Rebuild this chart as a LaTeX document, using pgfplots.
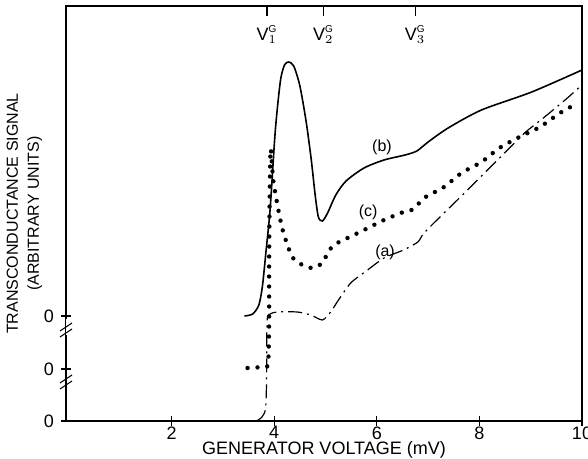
\documentclass[border=0pt]{standalone}
\usepackage{pgfplots}
\pgfplotsset{compat=1.18}
\usepackage{fontspec}
\setmainfont{Liberation Sans}

% curve (b), solid
\pgfplotstableread{
x y
3.42 105
3.58 107
3.70 116
3.77 135
3.84 170
3.92 212
4.02 290
4.12 340
4.20 356
4.28 359
4.38 355
4.50 335
4.62 300
4.72 262
4.80 225
4.86 204
4.94 200
5.04 208
5.20 226
5.40 240
5.75 253
6.14 261
6.55 266
6.78 270
7.00 279
7.39 293
8.04 311
9.02 329
10.00 351
}\curveb

% curve (c), dotted
\pgfplotstableread{
x y
3.48 53
3.62 53
3.78 55
3.88 57
3.90 100
3.90 160
3.91 220
3.93 272
3.98 241
4.08 211
4.18 188
4.35 164
4.55 156
4.75 153
4.94 158
5.04 168
5.16 176
5.35 181
5.75 191
6.14 201
6.52 209
6.72 212
6.92 223
7.31 234
7.65 248
8.04 259
8.39 273
8.78 284
9.18 294
9.57 308
9.92 318
}\curvec

% curve (a), dash-dot
\pgfplotstableread{
x y
3.66 0
3.76 4
3.83 12
3.85 40
3.86 100
3.92 107
4.06 109
4.45 109
4.71 106
4.94 101
5.10 109
5.24 120
5.49 138
5.82 151
6.14 163
6.52 171
6.80 179
6.92 188
7.31 208
7.71 228
8.10 248
8.49 268
8.88 288
9.27 304
9.67 321
10.00 336
}\curvea

\newcommand{\vg}[1]{V$_{#1}^{\mathrm{\scriptscriptstyle G}}$}

\begin{document}
\begin{tikzpicture}
\begin{axis}[
    scale only axis,
    width=258pt, height=207.5pt,
    xmin=-0.06, xmax=10, ymin=0, ymax=415,
    font=\fontsize{9}{10}\selectfont,
    axis line style={line width=0.6pt},
    xtick={2,4,6,8,10},
    xticklabels={2,4,6,8,10},
    ytick={0,52,105},
    yticklabels={0,0,0},
    xtick pos=bottom, ytick pos=left,
    tick align=center,
    major tick length=5pt,
    tick style={line width=0.6pt, black},
    /pgf/number format/assume math mode=true,
    xticklabel style={yshift=3.3pt},
    xlabel={GENERATOR VOLTAGE (mV)},
    ylabel={TRANSCONDUCTANCE SIGNAL\\(ARBITRARY UNITS)},
    ylabel style={align=center, font=\fontsize{8}{10.5}\selectfont},
    ylabel shift=-6pt,
    xlabel style={yshift=5.5pt},
    clip=false,
]
\addplot[black, line width=0.8pt, smooth, tension=0.45] table {\curveb};
\addplot[black, line width=2.2pt, line cap=round, dash pattern=on 0pt off 5pt, smooth, tension=0.4] table {\curvec};
\addplot[black, line width=0.6pt, dash pattern=on 7pt off 2.5pt on 1pt off 2.5pt, smooth, tension=0.4] table {\curvea};

% axis breaks
\fill[white] (axis cs:-0.06,86) rectangle ++(2pt,8pt);
\draw[line width=0.5pt] (axis cs:-0.06,88) ++(-3pt,-2pt) -- ++(6pt,4pt);
\draw[line width=0.5pt] (axis cs:-0.06,94) ++(-3pt,-2pt) -- ++(6pt,4pt);
\draw[line width=0.5pt] (axis cs:-0.06,36) ++(-3pt,-2pt) -- ++(6pt,4pt);
\draw[line width=0.5pt] (axis cs:-0.06,42) ++(-3pt,-2pt) -- ++(6pt,4pt);

% top markers
\draw[line width=0.6pt] (axis cs:3.86,415) -- (axis cs:3.86,405);
\draw[line width=0.6pt] (axis cs:4.96,415) -- (axis cs:4.96,405);
\draw[line width=0.6pt] (axis cs:6.75,415) -- (axis cs:6.75,405);
\node[font=\fontsize{9}{10}\selectfont] at (axis cs:3.86,386) {\vg{1}};
\node[font=\fontsize{9}{10}\selectfont] at (axis cs:4.96,386) {\vg{2}};
\node[font=\fontsize{9}{10}\selectfont] at (axis cs:6.75,386) {\vg{3}};

\node[font=\fontsize{8}{9}\selectfont] at (axis cs:6.10,274) {(b)};
\node[font=\fontsize{8}{9}\selectfont] at (axis cs:5.83,209) {(c)};
\node[font=\fontsize{8}{9}\selectfont] at (axis cs:6.16,169) {(a)};
\coordinate (sw) at (rel axis cs:0,0);
\coordinate (ne) at (rel axis cs:1,1);
\end{axis}
\pgfresetboundingbox
\path ([shift={(-33pt,-19pt)}]sw) rectangle ([shift={(3pt,3pt)}]ne);
\end{tikzpicture}
\end{document}
